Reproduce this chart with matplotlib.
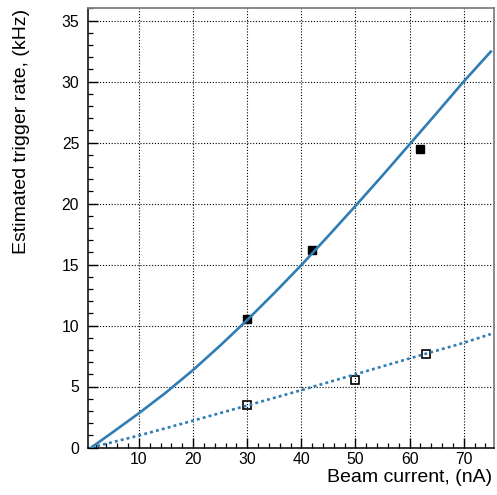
import matplotlib
matplotlib.use("Agg")
import matplotlib.pyplot as plt
from matplotlib.ticker import MultipleLocator

# Data
curve_x = [1.2, 5, 10, 15, 20, 25, 30, 35, 40, 45, 50, 55, 60, 65, 70, 75]
curve_y = [0.0, 1.2, 2.81, 4.51, 6.35, 8.35, 10.45, 12.66, 14.95, 17.35, 19.8, 22.3, 24.85, 27.41, 30.0, 32.45]

dot_x = [1.2, 10, 20, 30, 40, 50, 60, 70, 75]
dot_y = [0.0, 0.98, 2.2, 3.44, 4.7, 6.0, 7.3, 8.58, 9.3]

filled_x = [30, 42, 62]
filled_y = [10.5, 16.15, 24.5]

open_x = [30, 50, 63]
open_y = [3.45, 5.57, 7.68]

x_ticks = [10, 20, 30, 40, 50, 60, 70]
y_ticks = [0, 5, 10, 15, 20, 25, 30, 35]

plt.rcParams['font.family'] = ['Liberation Sans', 'DejaVu Sans']

W, H = 497, 495
fig = plt.figure(figsize=(W / 100, H / 100), dpi=100)
ax = fig.add_axes([87.5 / W, 1 - 447.5 / H, (493.5 - 87.5) / W, (447.5 - 8.3) / H])

blue = '#2f7db4'
ax.plot(filled_x, filled_y, linestyle='none', marker='s', ms=5.8, color='black', zorder=3)
ax.plot(open_x, open_y, linestyle='none', marker='s', ms=6.4, mfc='none', mec='black', mew=1.2, zorder=3)
ax.plot(curve_x, curve_y, color=blue, lw=1.9, zorder=4)
ax.plot(dot_x, dot_y, color=blue, lw=1.9, linestyle=(0, (1.1, 1.2)), zorder=4)

ax.set_xlim(0.5, 75.5)
ax.set_ylim(0, 36)
ax.set_xticks(x_ticks)
ax.set_yticks(y_ticks)
ax.xaxis.set_minor_locator(MultipleLocator(2))
ax.yaxis.set_minor_locator(MultipleLocator(1))
ax.tick_params(which='major', direction='in', length=7, width=1, labelsize=11.3, colors='black')
ax.tick_params(which='minor', direction='in', length=3.5, width=0.9)
ax.tick_params(axis='x', which='major', pad=3)
ax.tick_params(axis='y', which='major', pad=6)

ax.grid(True, which='major', color='black', linestyle=(0, (1, 1.6)), lw=0.8)
ax.set_axisbelow(True)

for s in ['left', 'bottom']:
    ax.spines[s].set_color('black')
    ax.spines[s].set_linewidth(1.1)
for s in ['top', 'right']:
    ax.spines[s].set_color('#808080')
    ax.spines[s].set_linewidth(1.3)

fig.text(22 / W, 1 - 9 / H, 'Estimated trigger rate, (kHz)', rotation=90,
         ha='center', va='top', fontsize=14)
fig.text(492 / W, 1 - 478 / H, 'Beam current, (nA)', ha='right', va='center', fontsize=14)

fig.savefig('out.png', dpi=100)
